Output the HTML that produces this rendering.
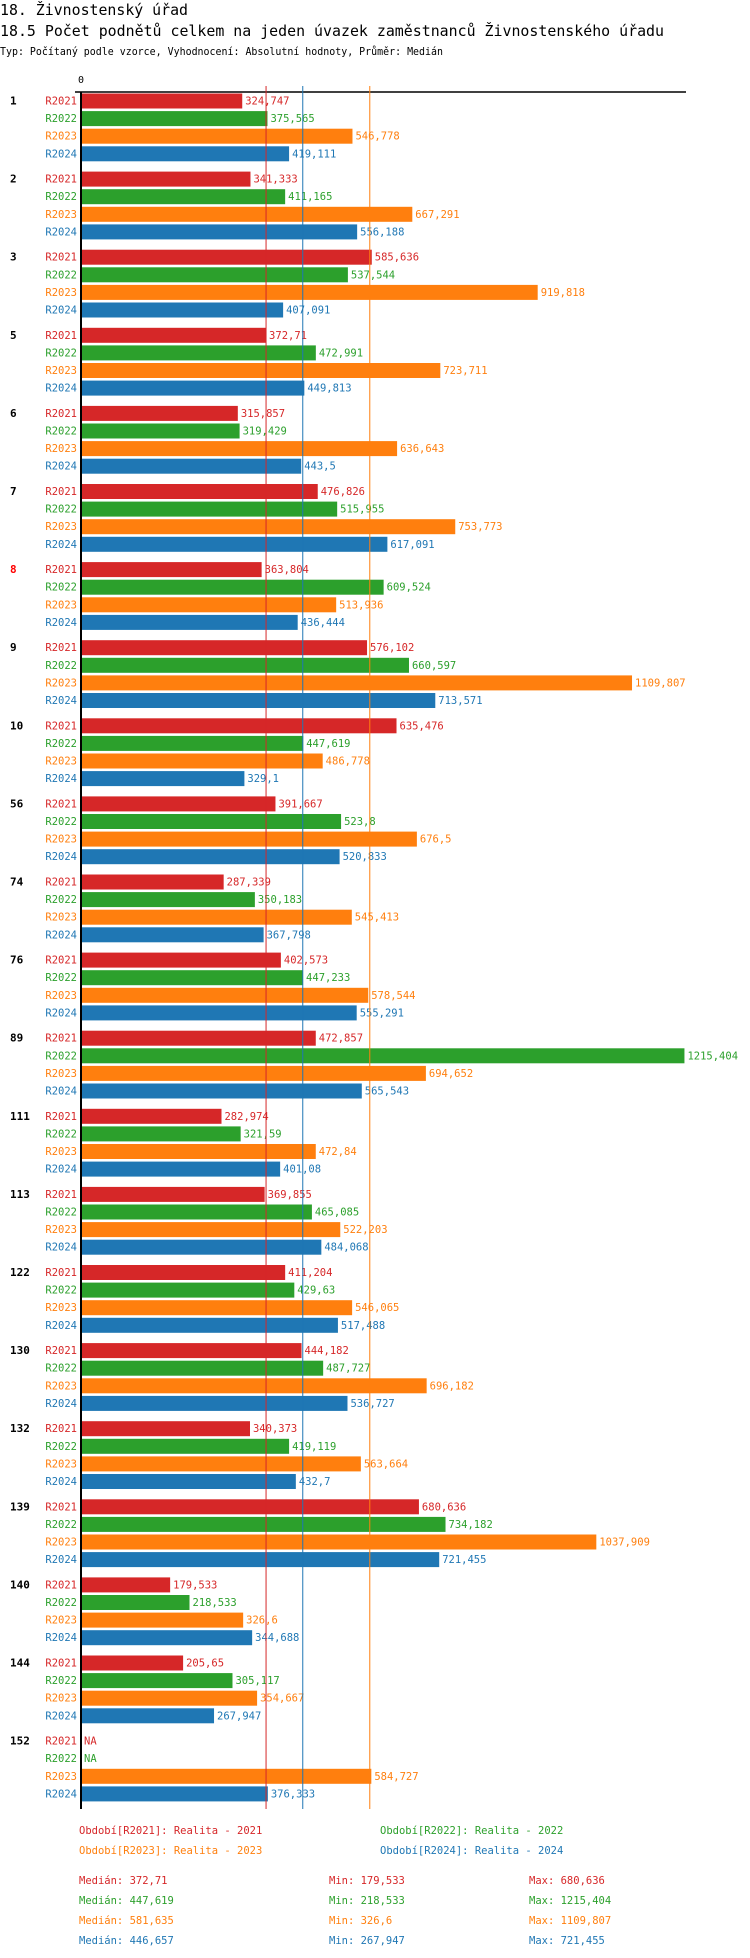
<!DOCTYPE html>
<html><head><meta charset="utf-8"><style>
body{margin:0;background:#fff;}
svg{display:block;font-family:"DejaVu Sans Mono","Liberation Mono",monospace;}
</style></head><body>
<svg id="c" width="750" height="1958" xmlns="http://www.w3.org/2000/svg">
<text x="0" y="15" font-size="15" textLength="188" lengthAdjust="spacingAndGlyphs">18. Živnostenský úřad</text>
<text x="0" y="36" font-size="15" textLength="664" lengthAdjust="spacingAndGlyphs">18.5 Počet podnětů celkem na jeden úvazek zaměstnanců Živnostenského úřadu</text>
<text x="0" y="55" font-size="11" textLength="443" lengthAdjust="spacingAndGlyphs">Typ: Počítaný podle vzorce, Vyhodnocení: Absolutní hodnoty, Průměr: Medián</text>
</svg>
<script>
const groups=["1","2","3","5","6","7","8","9","10","56","74","76","89","111","113","122","130","132","139","140","144","152"];
const seriesNames=["R2021","R2022","R2023","R2024"];
const s2021=[324.747,341.333,585.636,372.71,315.857,476.826,363.804,576.102,635.476,391.667,287.339,402.573,472.857,282.974,369.855,411.204,444.182,340.373,680.636,179.533,205.65,null];
const s2022=[375.565,411.165,537.544,472.991,319.429,515.955,609.524,660.597,447.619,523.8,350.183,447.233,1215.404,321.59,465.085,429.63,487.727,419.119,734.182,218.533,305.117,null];
const s2023=[546.778,667.291,919.818,723.711,636.643,753.773,513.936,1109.807,486.778,676.5,545.413,578.544,694.652,472.84,522.203,546.065,696.182,563.664,1037.909,326.6,354.667,584.727];
const s2024=[419.111,556.188,407.091,449.813,443.5,617.091,436.444,713.571,329.1,520.833,367.798,555.291,565.543,401.08,484.068,517.488,536.727,432.7,721.455,344.688,267.947,376.333];
const medians=[372.71,447.619,581.635,446.657];
const mins=[179.533,218.533,326.6,267.947];
const maxs=[680.636,1215.404,1109.807,721.455];
const legendLabels=["Období[R2021]: Realita - 2021","Období[R2022]: Realita - 2022","Období[R2023]: Realita - 2023","Období[R2024]: Realita - 2024"];
const highlightGroup="8";
const colors=["#d62728","#2ca02c","#ff7f0e","#1f77b4"];
const series=[s2021,s2022,s2023,s2024];
const NS="http://www.w3.org/2000/svg";
const svg=document.getElementById('c');
const X0=81,K=0.4965,Y0=93.5,GP=78.1,BP=17.6,BH=15,AXB=1809;
const xs=v=>X0+v*K;
const gy=i=>Y0+i*GP;
function el(t,a,txt){const e=document.createElementNS(NS,t);for(const k in a)e.setAttribute(k,a[k]);if(txt!=null)e.textContent=txt;svg.appendChild(e);return e;}
const fmt=v=>String(v).replace('.',',');
// axis
let e=el('text',{x:X0,y:83,'font-size':10,'text-anchor':'middle'},'0');


e=el('line',{x1:75,y1:92,x2:686,y2:92,stroke:'#000','stroke-width':1.5});


// bars
groups.forEach((g,i)=>{
  e=el('text',{x:10,y:gy(i)+11,'font-size':11,'font-weight':'bold',fill:g===highlightGroup?'#ff0000':'#000'},g);
  
  
  series.forEach((s,j)=>{
    const y=gy(i)+j*BP;
    e=el('text',{x:77,y:y+11,'font-size':10.5,'text-anchor':'end',fill:colors[j]},seriesNames[j]);
    
    
    const v=s[i];
    if(v==null){
      e=el('text',{x:X0+3,y:y+11,'font-size':10.5,fill:colors[j]},'NA');
      
      
      return;
    }
    e=el('rect',{x:X0,y:y,width:xs(v)-X0,height:BH,fill:colors[j]});
    
    
    e=el('text',{x:xs(v)+3,y:y+11,'font-size':10.5,fill:colors[j]},fmt(v));
    
    
  });
});
// median lines
[0,3,2].forEach(j=>{
  e=el('line',{x1:xs(medians[j]),y1:86,x2:xs(medians[j]),y2:AXB,stroke:colors[j],'stroke-width':1});
  
  
});
e=el('line',{x1:X0,y1:92,x2:X0,y2:AXB,stroke:'#000','stroke-width':2});


// legend
const lx=[79,380,79,380],ly=[1834,1834,1854,1854];
legendLabels.forEach((t,j)=>{
  e=el('text',{x:lx[j],y:ly[j],'font-size':10.5,fill:colors[j]},t);
  
  
});
for(let j=0;j<4;j++){
  const y=1884+j*20;
  e=el('text',{x:79,y:y,'font-size':10.5,fill:colors[j]},'Medián: '+fmt(medians[j]));
  
  
  e=el('text',{x:329,y:y,'font-size':10.5,fill:colors[j]},'Min: '+fmt(mins[j]));
  
  
  e=el('text',{x:529,y:y,'font-size':10.5,fill:colors[j]},'Max: '+fmt(maxs[j]));
  
  
}
</script>
</body></html>
